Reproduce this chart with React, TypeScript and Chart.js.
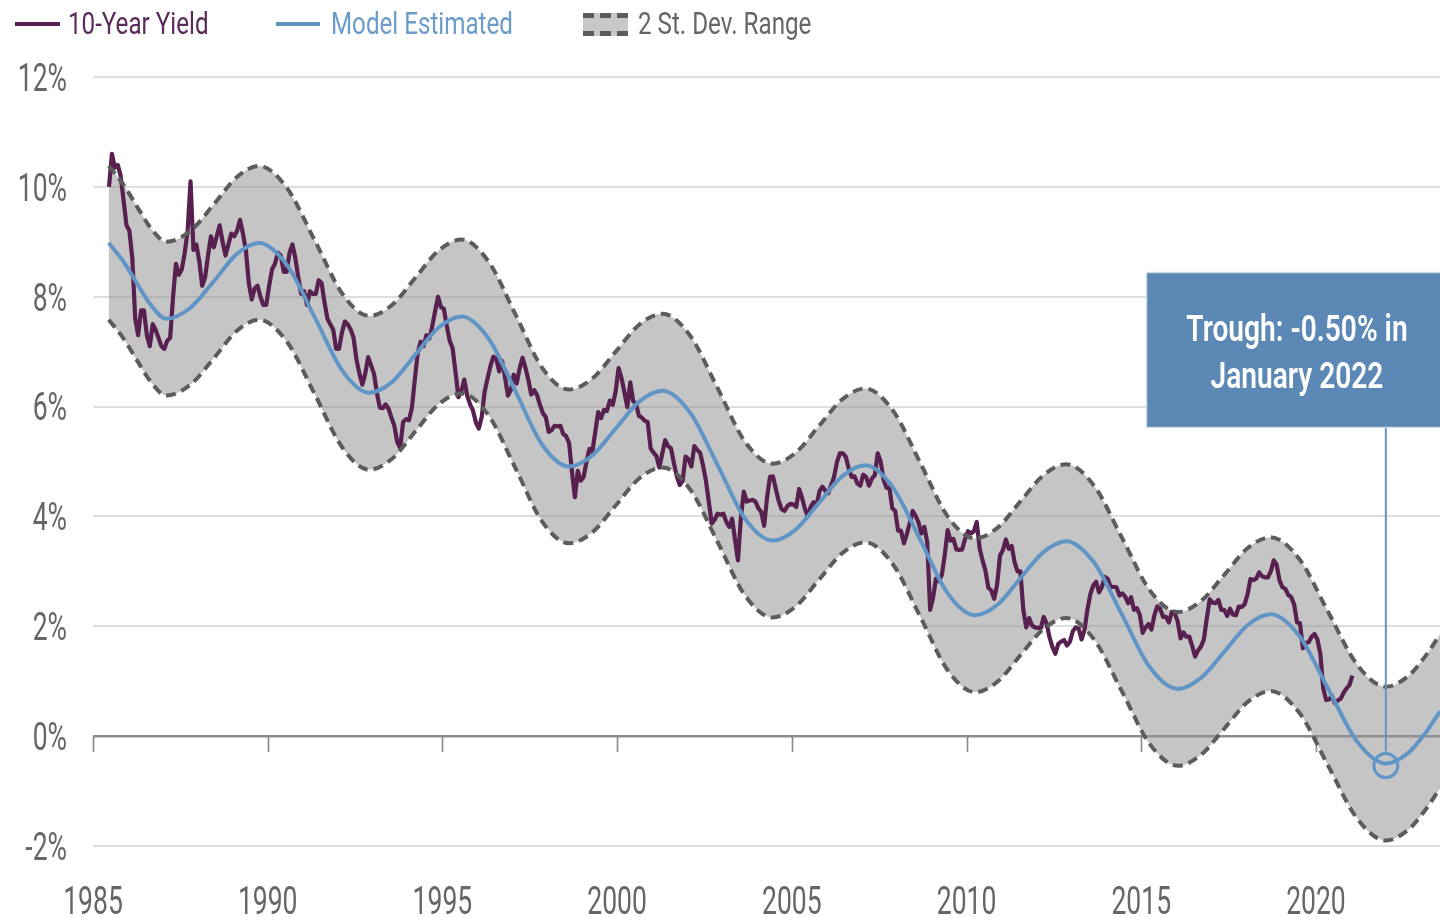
import { useEffect, useRef } from "react";
import { Chart, registerables } from "chart.js";

Chart.register(...registerables);

// ---- DATA ----
// Monthly 10-year yield (%), starting June 1985
const yieldStartYear = 1985;
const yieldStartMonth = 6;
const yieldValues: number[] = [
  // 1985 Jun-Dec
  10.0, 10.6, 10.35, 10.4, 10.2, 9.75, 9.3,
  // 1986
  9.2, 8.7, 7.6, 7.3, 7.75, 7.75, 7.3, 7.1, 7.5, 7.4, 7.25, 7.1,
  // 1987
  7.05, 7.2, 7.25, 8.0, 8.6, 8.4, 8.5, 8.8, 9.2, 10.1, 8.85, 8.95,
  // 1988
  8.65, 8.2, 8.35, 8.75, 9.1, 8.9, 9.1, 9.3, 9.0, 8.75, 8.95, 9.15,
  // 1989
  9.1, 9.2, 9.4, 9.15, 8.85, 8.25, 7.95, 8.15, 8.2, 8.0, 7.85, 7.85,
  // 1990
  8.2, 8.5, 8.6, 8.8, 8.75, 8.45, 8.45, 8.8, 8.95, 8.7, 8.35, 8.05,
  // 1991
  8.1, 7.85, 8.1, 8.05, 8.05, 8.3, 8.25, 7.9, 7.6, 7.5, 7.4, 7.05,
  // 1992
  7.05, 7.35, 7.55, 7.5, 7.4, 7.25, 6.85, 6.6, 6.4, 6.6, 6.9, 6.75,
  // 1993
  6.6, 6.25, 5.98, 5.97, 6.04, 5.96, 5.8, 5.65, 5.35, 5.25, 5.72, 5.77,
  // 1994
  5.75, 5.97, 6.48, 6.97, 7.18, 7.1, 7.3, 7.24, 7.46, 7.74, 8.0, 7.81,
  // 1995
  7.78, 7.47, 7.2, 7.06, 6.63, 6.17, 6.28, 6.49, 6.2, 6.04, 5.93, 5.71,
  // 1996
  5.6, 5.81, 6.27, 6.51, 6.74, 6.91, 6.87, 6.64, 6.83, 6.53, 6.2, 6.3,
  // 1997
  6.58, 6.42, 6.69, 6.89, 6.71, 6.49, 6.22, 6.3, 6.21, 6.03, 5.88, 5.81,
  // 1998
  5.54, 5.57, 5.65, 5.64, 5.65, 5.5, 5.46, 5.34, 4.81, 4.35, 4.83, 4.65,
  // 1999
  4.72, 5.0, 5.23, 5.18, 5.54, 5.9, 5.79, 5.94, 5.92, 6.11, 6.03, 6.28,
  // 2000
  6.7, 6.52, 6.26, 5.99, 6.44, 6.1, 6.05, 5.83, 5.8, 5.74, 5.72, 5.24,
  // 2001
  5.16, 5.1, 4.89, 5.14, 5.39, 5.28, 5.24, 4.97, 4.73, 4.57, 4.65, 5.09,
  // 2002
  5.04, 4.91, 5.28, 5.21, 5.16, 4.93, 4.65, 4.26, 3.87, 3.94, 4.05, 4.03,
  // 2003
  4.05, 3.9, 3.81, 3.96, 3.57, 3.2, 3.98, 4.45, 4.27, 4.29, 4.3, 4.27,
  // 2004
  4.15, 4.08, 3.83, 4.35, 4.72, 4.73, 4.5, 4.28, 4.13, 4.1, 4.19, 4.23,
  // 2005
  4.22, 4.17, 4.5, 4.34, 4.14, 4.0, 4.18, 4.26, 4.2, 4.46, 4.54, 4.47,
  // 2006
  4.42, 4.57, 4.72, 4.99, 5.15, 5.15, 5.09, 4.88, 4.72, 4.73, 4.6, 4.56,
  // 2007
  4.76, 4.72, 4.56, 4.69, 4.75, 5.15, 5.0, 4.67, 4.52, 4.53, 4.15, 4.1,
  // 2008
  3.74, 3.74, 3.51, 3.68, 3.88, 4.1, 4.01, 3.89, 3.69, 3.81, 3.53, 2.3,
  // 2009
  2.52, 2.87, 2.82, 2.93, 3.29, 3.75, 3.56, 3.59, 3.4, 3.39, 3.4, 3.59,
  // 2010
  3.73, 3.69, 3.73, 3.9, 3.42, 3.2, 3.01, 2.7, 2.65, 2.5, 2.76, 3.29,
  // 2011
  3.39, 3.58, 3.41, 3.46, 3.17, 3.0, 3.0, 2.3, 1.98, 2.15, 2.01, 1.98,
  // 2012
  1.97, 1.97, 2.17, 2.05, 1.8, 1.62, 1.5, 1.68, 1.72, 1.75, 1.65, 1.72,
  // 2013
  1.91, 1.98, 1.96, 1.76, 1.93, 2.3, 2.58, 2.74, 2.81, 2.62, 2.72, 2.9,
  // 2014
  2.86, 2.71, 2.72, 2.71, 2.56, 2.6, 2.54, 2.42, 2.53, 2.3, 2.33, 2.21,
  // 2015
  1.88, 1.98, 2.04, 1.94, 2.2, 2.36, 2.32, 2.17, 2.17, 2.07, 2.26, 2.24,
  // 2016
  2.09, 1.78, 1.89, 1.81, 1.81, 1.64, 1.45, 1.56, 1.63, 1.76, 2.14, 2.49,
  // 2017
  2.43, 2.42, 2.48, 2.3, 2.3, 2.19, 2.32, 2.21, 2.2, 2.36, 2.35, 2.4,
  // 2018
  2.58, 2.86, 2.84, 2.87, 2.98, 2.91, 2.89, 2.89, 3.0, 3.2, 3.12, 2.83,
  // 2019
  2.71, 2.68, 2.57, 2.53, 2.4, 2.07, 2.06, 1.6, 1.7, 1.71, 1.81, 1.86,
  // 2020
  1.76, 1.5, 0.87, 0.66, 0.67, 0.73, 0.6, 0.65, 0.68, 0.79, 0.87, 0.93,
  // 2021 Jan
  1.1,
];

// Model estimated curve (year, %)
const modelYears: number[] = [
  1985.45, 1985.86, 1986.3, 1986.63, 1987.1, 1987.79, 1988.47, 1989.12, 1989.75,
  1990.55, 1991.35, 1992.14, 1992.9, 1993.56, 1994.23, 1994.89, 1995.55,
  1996.32, 1997.09, 1997.85, 1998.62, 1999.29, 1999.96, 2000.63, 2001.3,
  2002.09, 2002.88, 2003.66, 2004.45, 2005.11, 2005.78, 2006.44, 2007.1,
  2007.89, 2008.68, 2009.46, 2010.25, 2010.9, 2011.55, 2012.2, 2012.85,
  2013.65, 2014.45, 2015.25, 2016.05, 2016.71, 2017.38, 2018.04, 2018.7,
  2019.53, 2020.35, 2021.18, 2022.0, 2022.65, 2023.1, 2023.55,
];
const modelValues: number[] = [
  8.98, 8.65, 8.2, 7.87, 7.6, 7.8, 8.29, 8.78, 8.98,
  8.58, 7.62, 6.65, 6.25, 6.45, 6.95, 7.44, 7.64,
  7.24, 6.28, 5.31, 4.91, 5.11, 5.6, 6.09, 6.29,
  5.89, 4.93, 3.96, 3.56, 3.76, 4.25, 4.73, 4.93,
  4.53, 3.57, 2.6, 2.2, 2.4, 2.88, 3.35, 3.55,
  3.16, 2.21, 1.25, 0.86, 1.06, 1.54, 2.02, 2.22,
  1.82, 0.86, -0.1, -0.5, -0.3, 0.03, 0.45,
];
// 2 standard deviation range, upper and lower edges (%)
const bandUpper: number[] = [
  10.38, 10.05, 9.6, 9.27, 9.0, 9.2, 9.69, 10.18, 10.38,
  9.98, 9.02, 8.05, 7.65, 7.85, 8.35, 8.84, 9.04,
  8.64, 7.68, 6.71, 6.31, 6.51, 7.0, 7.49, 7.69,
  7.29, 6.33, 5.36, 4.96, 5.16, 5.65, 6.13, 6.33,
  5.93, 4.97, 4.0, 3.6, 3.8, 4.28, 4.75, 4.95,
  4.56, 3.61, 2.65, 2.26, 2.46, 2.94, 3.42, 3.62,
  3.22, 2.26, 1.3, 0.9, 1.1, 1.43, 1.85,
];
const bandLower: number[] = [
  7.58, 7.25, 6.8, 6.47, 6.2, 6.4, 6.89, 7.38, 7.58,
  7.18, 6.22, 5.25, 4.85, 5.05, 5.55, 6.04, 6.24,
  5.84, 4.88, 3.91, 3.51, 3.71, 4.2, 4.69, 4.89,
  4.49, 3.53, 2.56, 2.16, 2.36, 2.85, 3.33, 3.53,
  3.13, 2.17, 1.2, 0.8, 1.0, 1.48, 1.95, 2.15,
  1.76, 0.81, -0.15, -0.54, -0.34, 0.14, 0.62, 0.82,
  0.42, -0.54, -1.5, -1.9, -1.7, -1.37, -0.95,
];

const xTickYears: number[] = [1985, 1990, 1995, 2000, 2005, 2010, 2015, 2020];
const yTickValues: number[] = [-2, 0, 2, 4, 6, 8, 10, 12];
const xMin = 1985;
const xMax = 2023.55;

const troughYear = 2022.0;
const troughValue = -0.5;
const annotationLines: string[] = ["Trough: -0.50% in", "January 2022"];
const legendLabels: string[] = ["10-Year Yield", "Model Estimated", "2 St. Dev. Range"];

// ---- STYLE ----
const PURPLE = "#57204f";
const BLUE = "#6195c6";
const BAND_LINE = "#5c5c5c";
const BAND_FILL = "rgba(150,150,150,0.55)";
const TEXT_GRAY = "#666666";
const FONT = "Roboto, 'Liberation Sans', 'DejaVu Sans', sans-serif";

function drawText(
  ctx: CanvasRenderingContext2D,
  text: string,
  x: number,
  capCenterY: number,
  size: number,
  weight: string,
  color: string,
  sx: number,
  align: "left" | "center" | "right"
) {
  ctx.save();
  ctx.font = `${weight} ${size}px ${FONT}`;
  ctx.fillStyle = color;
  ctx.textBaseline = "alphabetic";
  ctx.textAlign = "left";
  const w = ctx.measureText(text).width * sx;
  let left = x;
  if (align === "center") left = x - w / 2;
  else if (align === "right") left = x - w;
  ctx.translate(left, capCenterY + size * 0.711 / 2);
  ctx.scale(sx, 1);
  ctx.fillText(text, 0, 0);
  ctx.restore();
}

const decorPlugin = {
  id: "decor",
  beforeDatasetsDraw(chart: any) {
    const ctx: CanvasRenderingContext2D = chart.ctx;
    const xs = chart.scales.x;
    const ys = chart.scales.y;
    const y0 = ys.getPixelForValue(0);
    ctx.save();
    ctx.strokeStyle = "#8a8a8a";
    ctx.lineWidth = 1.6;
    for (const t of xTickYears) {
      const px = Math.round(xs.getPixelForValue(t)) + 0.5;
      ctx.beginPath();
      ctx.moveTo(px, y0);
      ctx.lineTo(px, y0 + 16);
      ctx.stroke();
    }
    ctx.restore();
  },
  afterDraw(chart: any) {
    const ctx: CanvasRenderingContext2D = chart.ctx;
    const xs = chart.scales.x;
    const ys = chart.scales.y;

    // y tick labels
    for (const v of yTickValues) {
      drawText(ctx, `${v}%`, 67, ys.getPixelForValue(v), 39, "400", TEXT_GRAY, 0.68, "right");
    }
    // x tick labels
    for (const t of xTickYears) {
      drawText(ctx, `${t}`, xs.getPixelForValue(t), 900, 39, "400", TEXT_GRAY, 0.68, "center");
    }

    // legend
    ctx.save();
    ctx.lineWidth = 4;
    ctx.strokeStyle = PURPLE;
    ctx.beginPath();
    ctx.moveTo(15, 24);
    ctx.lineTo(60, 24);
    ctx.stroke();
    ctx.strokeStyle = BLUE;
    ctx.beginPath();
    ctx.moveTo(276, 24);
    ctx.lineTo(320, 24);
    ctx.stroke();
    ctx.fillStyle = "#c8c8c8";
    ctx.fillRect(583, 13, 45, 23);
    ctx.strokeStyle = BAND_LINE;
    ctx.lineWidth = 5;
    ctx.setLineDash([11, 6]);
    ctx.beginPath();
    ctx.moveTo(583, 15.5);
    ctx.lineTo(628, 15.5);
    ctx.moveTo(583, 33.5);
    ctx.lineTo(628, 33.5);
    ctx.stroke();
    ctx.restore();
    drawText(ctx, legendLabels[0], 68, 23, 31, "400", "#5a2a58", 0.78, "left");
    drawText(ctx, legendLabels[1], 331, 23, 31, "400", "#6b9bc8", 0.78, "left");
    drawText(ctx, legendLabels[2], 638, 23, 31, "400", TEXT_GRAY, 0.78, "left");

    // annotation
    const tx = xs.getPixelForValue(troughYear);
    const ty = ys.getPixelForValue(troughValue);
    const boxLeft = 1146;
    const boxTop = 272;
    const boxBottom = 428;
    const r = 12;
    ctx.save();
    ctx.strokeStyle = BLUE;
    ctx.lineWidth = 2;
    ctx.beginPath();
    ctx.moveTo(tx, boxBottom);
    ctx.lineTo(tx, ty - r);
    ctx.stroke();
    ctx.lineWidth = 3;
    ctx.beginPath();
    ctx.arc(tx, ty + 2, r, 0, Math.PI * 2);
    ctx.stroke();
    ctx.fillStyle = "#5b88b4";
    ctx.fillRect(boxLeft, boxTop, chart.width - boxLeft + 2, boxBottom - boxTop);
    ctx.strokeStyle = "rgba(220,228,236,0.9)";
    ctx.lineWidth = 1.5;
    ctx.strokeRect(boxLeft + 0.5, boxTop + 0.5, chart.width - boxLeft + 4, boxBottom - boxTop - 1);
    ctx.restore();
    const cx = (boxLeft + chart.width) / 2 + 4;
    drawText(ctx, annotationLines[0], cx, 328, 37, "600", "#ffffff", 0.76, "center");
    drawText(ctx, annotationLines[1], cx, 375, 37, "600", "#ffffff", 0.76, "center");
  },
};

export default function App() {
  const canvasRef = useRef<HTMLCanvasElement | null>(null);

  useEffect(() => {
    const canvas = canvasRef.current;
    if (!canvas) return;

    const yieldPoints = yieldValues.map((v, i) => ({
      x: yieldStartYear + (yieldStartMonth - 1 + i + 0.5) / 12,
      y: v,
    }));
    const modelPoints = modelYears.map((x, i) => ({ x, y: modelValues[i] }));
    const upperPoints = modelYears.map((x, i) => ({ x, y: bandUpper[i] }));
    const lowerPoints = modelYears.map((x, i) => ({ x, y: bandLower[i] }));

    const chart = new Chart(canvas, {
      type: "line",
      data: {
        datasets: [
          {
            label: "2 St. Dev. Range (upper)",
            data: upperPoints,
            borderColor: BAND_LINE,
            borderWidth: 4,
            borderDash: [10, 6],
            pointRadius: 0,
            fill: 1,
            backgroundColor: BAND_FILL,
            cubicInterpolationMode: "monotone",
            order: 0,
          },
          {
            label: "2 St. Dev. Range (lower)",
            data: lowerPoints,
            borderColor: BAND_LINE,
            borderWidth: 4,
            borderDash: [10, 6],
            pointRadius: 0,
            fill: false,
            cubicInterpolationMode: "monotone",
            order: 0,
          },
          {
            label: "10-Year Yield",
            data: yieldPoints,
            borderColor: PURPLE,
            borderWidth: 4.2,
            pointRadius: 0,
            fill: false,
            tension: 0,
            borderJoinStyle: "round",
            order: 2,
          },
          {
            label: "Model Estimated",
            data: modelPoints,
            borderColor: BLUE,
            borderWidth: 4,
            pointRadius: 0,
            fill: false,
            cubicInterpolationMode: "monotone",
            order: 1,
          },
        ],
      },
      options: {
        animation: false,
        responsive: false,
        devicePixelRatio: 1,
        layout: { padding: { top: 77, left: 0, right: 0, bottom: 0 } },
        plugins: {
          legend: { display: false },
          tooltip: { enabled: false },
          filler: { drawTime: "beforeDatasetsDraw" },
        },
        scales: {
          x: {
            type: "linear",
            min: xMin,
            max: xMax,
            ticks: { display: false },
            grid: { display: false },
            border: { display: false },
            afterFit: (scale: any) => {
              scale.height = 72;
            },
          },
          y: {
            type: "linear",
            min: -2,
            max: 12,
            ticks: { display: false, stepSize: 2 },
            border: { display: false },
            grid: {
              drawTicks: false,
              color: (c: any) => (c.tick && c.tick.value === 0 ? "#8c8c8c" : "#dedede"),
              lineWidth: (c: any) => (c.tick && c.tick.value === 0 ? 2.6 : 2),
            },
            afterFit: (scale: any) => {
              scale.width = 93;
            },
          },
        },
      } as any,
      plugins: [decorPlugin],
    });

    return () => chart.destroy();
  }, []);

  return (
    <div style={{ position: "absolute", left: 0, top: 0, width: 1440, height: 918, background: "#ffffff" }}>
      <canvas ref={canvasRef} width={1440} height={918} style={{ display: "block" }} />
    </div>
  );
}
